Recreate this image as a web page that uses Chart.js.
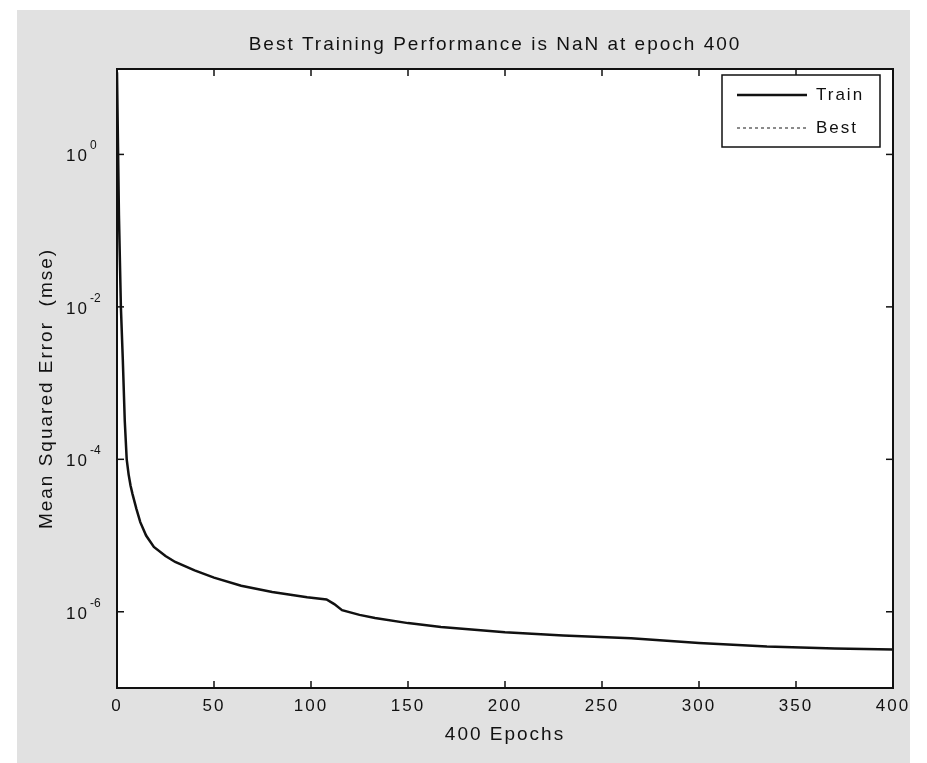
<!DOCTYPE html>
<html lang="en">
<head>
<meta charset="UTF-8">
<title>Best Training Performance</title>
<script src="https://cdn.jsdelivr.net/npm/chart.js"></script>
<style>
  html, body { margin: 0; padding: 0; background: #fff; }
  body { width: 927px; height: 763px; position: relative; overflow: hidden; }
  #fig { position: absolute; left: 17px; top: 10px; width: 893px; height: 753px; background: #e1e1e1; }
  #wrap { position: absolute; left: 0; top: 0; width: 927px; height: 763px; }
</style>
</head>
<body>
<div id="fig"></div>
<div id="wrap"><canvas id="perfChart"></canvas></div>
<script>
// values
const epochs = [0, 1, 2, 3, 4, 5, 6, 7, 8, 10, 12, 15, 19, 25, 30, 40, 50, 64, 80, 98, 108, 112, 116, 125, 133, 150, 167, 200, 230, 265, 300, 335, 370, 400];
const trainMse = [12, 0.16, 1.0e-2, 2.0e-3, 3.2e-4, 1.0e-4, 6.3e-5, 4.5e-5, 3.5e-5, 2.24e-5, 1.5e-5, 1.0e-5, 7.1e-6, 5.4e-6, 4.5e-6, 3.5e-6, 2.8e-6, 2.2e-6, 1.82e-6, 1.55e-6, 1.45e-6, 1.26e-6, 1.05e-6, 9.1e-7, 8.3e-7, 7.1e-7, 6.3e-7, 5.4e-7, 4.9e-7, 4.5e-7, 3.9e-7, 3.5e-7, 3.3e-7, 3.2e-7];
const bestMse = []; // best performance is NaN, so nothing is drawn

const xTicks = [0, 50, 100, 150, 200, 250, 300, 350, 400];
const yTicks = [1e0, 1e-2, 1e-4, 1e-6];
const yTickExp = ['0', '-2', '-4', '-6'];

const titleText = 'Best Training Performance is NaN at epoch 400';
const xTitle = '400 Epochs';
const yTitle = 'Mean Squared Error  (mse)';

const FONT = '"Liberation Sans", Arial, Helvetica, sans-serif';
const INK = '#111';

Chart.defaults.font.family = FONT;
Chart.defaults.color = INK;

// matlab-ish frame: white axes, box with inward ticks, titles, legend inside
const matlabFrame = {
    id: 'matlabFrame',
    beforeDraw(chart) {
        const ctx = chart.ctx;
        const a = chart.chartArea;
        ctx.letterSpacing = '2px';
        ctx.save();
        ctx.fillStyle = '#fff';
        ctx.fillRect(a.left, a.top, a.right - a.left, a.bottom - a.top);
        ctx.restore();
    },
    afterDraw(chart) {
        const ctx = chart.ctx;
        const {left, right, top, bottom} = chart.chartArea;
        const xs = chart.scales.x, ys = chart.scales.y;
        const seg = (x1, y1, x2, y2) => { ctx.beginPath(); ctx.moveTo(x1, y1); ctx.lineTo(x2, y2); ctx.stroke(); };

        ctx.save();
        ctx.strokeStyle = INK;
        ctx.lineWidth = 2;
        ctx.strokeRect(left, top, right - left, bottom - top);

        ctx.lineWidth = 1.5;
        xTicks.forEach(v => {
            const px = xs.getPixelForValue(v);
            seg(px, bottom, px, bottom - 7);
            seg(px, top, px, top + 7);
        });
        yTicks.forEach(v => {
            const py = ys.getPixelForValue(v);
            seg(left, py, left + 7, py);
            seg(right, py, right - 7, py);
        });

        // y tick labels as 10 with superscript exponent
        ctx.fillStyle = INK;
        ctx.letterSpacing = '2px';
        yTicks.forEach((v, i) => {
            const py = ys.getPixelForValue(v);
            const xr = left - 28;
            ctx.font = '17px ' + FONT;
            ctx.textAlign = 'right';
            ctx.textBaseline = 'alphabetic';
            ctx.fillText('10', xr, py + 7);
            ctx.font = '12px ' + FONT;
            ctx.textAlign = 'left';
            ctx.letterSpacing = '0px';
            ctx.fillText(yTickExp[i], xr + 1, py - 5);
            ctx.letterSpacing = '2px';
        });

        // title
        ctx.font = '19px ' + FONT;
        ctx.textAlign = 'center';
        ctx.textBaseline = 'alphabetic';
        ctx.fillText(titleText, (left + right) / 2 - 10, top - 19);

        // y axis title, sits a little below the axes centre in the scan
        ctx.save();
        ctx.translate(47, (top + bottom) / 2 + 10);
        ctx.rotate(-Math.PI / 2);
        ctx.textBaseline = 'middle';
        ctx.fillText(yTitle, 0, 0);
        ctx.restore();

        // legend box
        const lw = 158, lh = 72;
        const lx = right - 13 - lw, ly = top + 6;
        ctx.fillStyle = '#fff';
        ctx.fillRect(lx, ly, lw, lh);
        ctx.lineWidth = 1.5;
        ctx.strokeStyle = INK;
        ctx.strokeRect(lx, ly, lw, lh);
        chart.data.datasets.forEach((ds, i) => {
            const yy = ly + 20 + i * 33;
            ctx.strokeStyle = ds.borderColor;
            ctx.lineWidth = ds.borderWidth;
            ctx.setLineDash(ds.borderDash || []);
            seg(lx + 15, yy, lx + 85, yy);
            ctx.setLineDash([]);
            ctx.fillStyle = INK;
            ctx.font = '17px ' + FONT;
            ctx.textAlign = 'left';
            ctx.textBaseline = 'middle';
            ctx.fillText(ds.label, lx + 94, yy);
        });
        ctx.restore();
    }
};

const ctx = document.getElementById('perfChart').getContext('2d');
const perfChart = new Chart(ctx, {
    type: 'line',
    data: {
        datasets: [{
            label: 'Train',
            data: epochs.map((e, i) => ({x: e, y: trainMse[i]})),
            borderColor: INK,
            borderWidth: 2.5,
            pointRadius: 0,
            tension: 0
        }, {
            label: 'Best',
            data: bestMse,
            borderColor: '#666',
            borderWidth: 1.5,
            borderDash: [3, 3],
            pointRadius: 0
        }]
    },
    options: {
        responsive: true,
        maintainAspectRatio: false,
        animation: false,
        layout: { padding: { left: 0, right: 34, top: 69, bottom: 0 } },
        plugins: {
            legend: { display: false },
            title: { display: false },
            tooltip: { enabled: false }
        },
        scales: {
            x: {
                type: 'linear',
                min: 0,
                max: 400,
                grid: { display: false, drawTicks: false },
                border: { display: false },
                ticks: {
                    stepSize: 50,
                    padding: 8,
                    font: { size: 17 },
                    color: INK,
                    maxRotation: 0
                },
                afterBuildTicks: s => { s.ticks = xTicks.map(v => ({value: v})); },
                afterFit: s => { s.height = 75; },
                title: {
                    display: true,
                    text: xTitle,
                    font: { size: 19 },
                    color: INK,
                    padding: { top: 0, bottom: 17 }
                }
            },
            y: {
                type: 'logarithmic',
                min: 1e-7,
                max: 13.2,
                bounds: 'data',
                grid: { display: false, drawTicks: false },
                border: { display: false },
                ticks: { display: false },
                afterBuildTicks: s => { s.ticks = yTicks.map(v => ({value: v})); },
                afterFit: s => { s.width = 117; },
                title: { display: false }
            }
        }
    },
    plugins: [matlabFrame]
});
</script>
</body>
</html>
